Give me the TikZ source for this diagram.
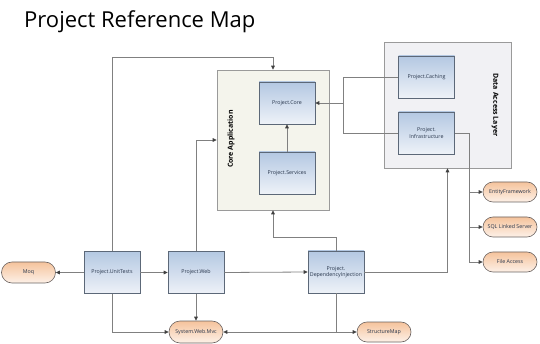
\documentclass[tikz,border=0pt]{standalone}
\usepackage{fontspec}
\setmainfont{Open Sans}
\usetikzlibrary{arrows.meta,calc,shapes.misc}
\definecolor{lineg}{HTML}{808080}
\definecolor{tipg}{HTML}{404040}
\definecolor{boxtop}{HTML}{B4C8E2}
\definecolor{boxbot}{HTML}{EEF2F8}
\definecolor{boxdraw}{HTML}{5C6878}
\definecolor{ovtop}{HTML}{F5C39C}
\definecolor{ovbot}{HTML}{FDF1E8}
\definecolor{ovdraw}{HTML}{6A6260}
\definecolor{txt}{HTML}{26344A}
\definecolor{contfill}{HTML}{F4F4EC}
\definecolor{dalfill}{HTML}{F1F1F4}
\definecolor{contdraw}{HTML}{9A9A9A}
\tikzset{
  x=1pt,y=-1pt,
  projbox/.style={draw=boxdraw,line width=0.6pt,top color=boxtop,bottom color=boxbot,
    minimum width=56pt,minimum height=42pt,inner sep=1pt,align=center,
    font=\fontsize{5.3}{6.3}\selectfont,text=txt},
  extoval/.style={draw=ovdraw,line width=0.6pt,rounded rectangle,top color=ovtop,bottom color=ovbot,
    minimum width=56pt,minimum height=21pt,inner sep=1pt,
    font=\fontsize{5.3}{6.3}\selectfont,text=txt},
  conn/.style={draw=lineg,line width=0.8pt},
  arr/.style={conn,-{Triangle[length=4pt,width=3.6pt,fill=tipg,color=tipg]}},
  contlabel/.style={font=\bfseries\fontsize{7}{8}\selectfont,text=black},
}
\begin{document}
\begin{tikzpicture}
\useasboundingbox (0,0) rectangle (540,344);
\node[anchor=base west,font=\fontsize{22}{25}\selectfont,text=black,inner sep=0] (title) at (24,28) {Project Reference Map};
% containers
\node[draw=contdraw,fill=contfill,line width=0.6pt,minimum width=112pt,minimum height=140pt,inner sep=0] (coreapp) at (273,140) {};
\node[draw=contdraw,fill=dalfill,line width=0.6pt,minimum width=127pt,minimum height=126pt,inner sep=0] (dal) at (447.5,105) {};
\node[contlabel,rotate=90] (corelbl) at (231,139) {Core Application};
\node[contlabel,rotate=-90] (dallbl) at (495,105) {Data Access Layer};
% project boxes
\node[projbox] (core) at (287,103) {Project.Core};
\node[projbox] (svc) at (287,173) {Project.Services};
\node[projbox] (cach) at (426.5,77) {Project.Caching};
\node[projbox] (infra) at (426.5,133) {Project.\\Infrastructure};
\node[projbox] (ut) at (112,272.5) {Project.UnitTests};
\node[projbox] (web) at (196,272.5) {Project.Web};
\node[projbox] (di) at (336,272) {Project.\\DependencyInjection};
% external ovals
\node[extoval] (moq) at (28.5,272.5) {Moq};
\node[extoval,minimum height=22pt] (swm) at (196,332) {System.Web.Mvc};
\node[extoval,minimum height=20pt] (sm) at (384,332) {StructureMap};
\node[extoval,minimum height=20pt] (ef) at (510,192) {EntityFramework};
\node[extoval,minimum height=20pt] (sql) at (510,227) {SQL Linked Server};
\node[extoval,minimum height=20pt] (fa) at (510,262) {File Access};
% coordinates
\coordinate (k1) at (273,57);
\coordinate (j) at (343,103);
\coordinate (bus) at (469,133);
% connectors
\draw[arr] (ut.north) |- (k1) -- (coreapp.north);
\draw[arr] (web.north) |- (coreapp.west);
\draw[arr] (svc.north) -- (core.south);
\draw[conn] (cach.west) -| (j);
\draw[conn] (infra.west) -| (j);
\draw[arr] (j) -- (core.east);
\draw[conn] (infra.east) -- (bus) -- (bus |- fa.west);
\draw[arr] (bus |- ef.west) -- (ef.west);
\draw[arr] (bus |- sql.west) -- (sql.west);
\draw[arr] (bus |- fa.west) -- (fa.west);
\draw[arr] (di.east) -| (dal.south);
\draw[arr] (di.north) -- ($(di.north)+(0,-13)$) -| (coreapp.south);
\draw[conn] (di.south) -- (di.south |- sm.west);
\draw[arr] (di.south |- sm.west) -- (sm.west);
\draw[arr] (di.south |- swm.east) -- (swm.east);
\draw[arr] (web.south) -- (swm.north);
\draw[arr] (ut.south) |- (swm.west);
\draw[arr] (ut.west) -- (moq.east);
\draw[arr] (ut.east) -- (web.west);
\draw[arr] (web.east) -- (di.west);
\end{tikzpicture}
\end{document}
